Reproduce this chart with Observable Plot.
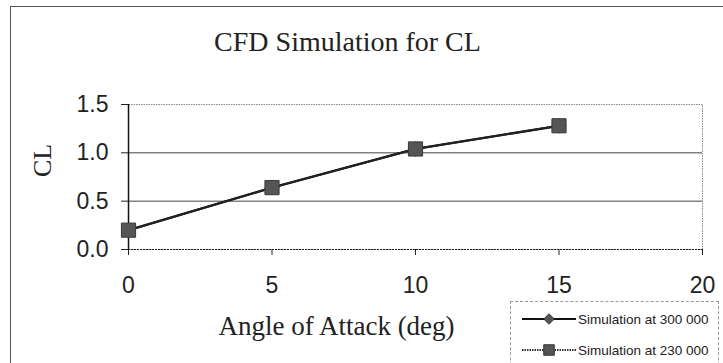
<!DOCTYPE html>
<html>
<head>
<meta charset="utf-8">
<script src="https://cdn.jsdelivr.net/npm/d3@7"></script>
<script src="https://cdn.jsdelivr.net/npm/@observablehq/plot@0.6"></script>
<style>
  html, body { margin: 0; padding: 0; background: #fff; }
  #wrap { position: relative; width: 723px; height: 363px; overflow: hidden; background: #fff; }
  #outer { position: absolute; left: 10px; top: 6px; width: 730px; height: 380px;
           border-left: 1.5px solid #555; border-top: 1.5px solid #555; box-sizing: border-box; }
  #chart { position: absolute; left: 0; top: 0; }
  #legend { position: absolute; left: 510px; top: 301px; width: 209px; height: 80px;
            border: 1px dashed #999; box-sizing: border-box; background: #fff; }
  #legend svg { position: absolute; left: 0; top: 0; }
</style>
</head>
<body>
<div id="wrap">
  <div id="outer"></div>
  <div id="chart"></div>
  <div id="legend"></div>
</div>
<script>
const angles = [0, 5, 10, 15];
const cl300 = [0.2, 0.64, 1.04, 1.28];
const cl230 = [0.2, 0.64, 1.04, 1.28];
const xTicks = [0, 5, 10, 15, 20];
const yTicks = [0, 0.5, 1.0, 1.5];
const gridValues = [0.5, 1.0];
const seriesNames = ["Simulation at 300 000", "Simulation at 230 000"];
const titleText = "CFD Simulation for CL";
const xLabel = "Angle of Attack (deg)";
const yLabel = "CL";

const d300 = angles.map((a, i) => ({angle: a, cl: cl300[i]}));
const d230 = angles.map((a, i) => ({angle: a, cl: cl230[i]}));

const serif = "'Liberation Serif', 'Times New Roman', serif";
const sans = "'Liberation Sans', Arial, sans-serif";

const chart = Plot.plot({
  width: 723,
  height: 363,
  marginLeft: 128,
  marginRight: 21,
  marginTop: 104,
  marginBottom: 114,
  style: {background: "transparent", fontFamily: sans, color: "#222", overflow: "visible"},
  x: {domain: [0, 20]},
  y: {domain: [0, 1.5]},
  marks: [
    Plot.frame({stroke: "#888", strokeDasharray: "1.5,1"}),
    Plot.ruleY(gridValues, {stroke: "#444", strokeWidth: 1}),
    Plot.ruleY([0], {stroke: "#222", strokeDasharray: "2,1", strokeWidth: 1.2}),
    Plot.ruleX([0], {stroke: "#111", strokeWidth: 1.5}),
    Plot.axisY({ticks: yTicks, tickFormat: d3.format(".1f"), tickSize: 7, tickPadding: 13,
                label: null, fontSize: 23, fontFamily: sans, stroke: "#222"}),
    Plot.axisX({ticks: xTicks, tickSize: 6, tickPadding: 21, label: null,
                fontSize: 23, fontFamily: sans, stroke: "#222"}),
    Plot.line(d300, {x: "angle", y: "cl", stroke: "#111", strokeWidth: 2.3}),
    Plot.dot(d300, {x: "angle", y: "cl", symbol: "diamond2", r: 6, fill: "#555", stroke: "#333"}),
    Plot.line(d230, {x: "angle", y: "cl", stroke: "#222", strokeWidth: 2}),
    Plot.dot(d230, {x: "angle", y: "cl", symbol: "square", r: 8, fill: "#555", stroke: "#3a3a3a", strokeWidth: 1}),
    Plot.text([titleText], {frameAnchor: "top", dx: -68, dy: -54, lineAnchor: "bottom",
                            fontFamily: serif, fontSize: 28, fill: "#222"}),
    Plot.text([xLabel], {frameAnchor: "bottom", dx: -79, dy: 85, lineAnchor: "bottom",
                         fontFamily: serif, fontSize: 27, fill: "#222"}),
    Plot.text([yLabel], {frameAnchor: "left", dx: -86, rotate: -90, lineAnchor: "middle",
                         fontFamily: serif, fontSize: 26, fill: "#222"})
  ]
});
document.getElementById("chart").appendChild(chart);

// Legend
const lg = d3.select("#legend").append("svg").attr("width", 209).attr("height", 80);
const rows = [
  {name: seriesNames[0], y: 17, dash: null, stroke: "#111", sym: d3.symbolDiamond2, size: 70},
  {name: seriesNames[1], y: 48, dash: "1.5,1", stroke: "#333", sym: d3.symbolSquare, size: 110}
];
rows.forEach(r => {
  lg.append("line").attr("x1", 11).attr("x2", 65).attr("y1", r.y).attr("y2", r.y)
    .attr("stroke", r.stroke).attr("stroke-width", 2).attr("stroke-dasharray", r.dash);
  lg.append("path").attr("d", d3.symbol(r.sym, r.size)()).attr("transform", `translate(38,${r.y})`)
    .attr("fill", "#555").attr("stroke", "#333");
  lg.append("text").attr("x", 67).attr("y", r.y).attr("dy", "0.35em")
    .attr("font-family", sans).attr("font-size", 13.5).attr("fill", "#222").text(r.name);
});
</script>
</body>
</html>
